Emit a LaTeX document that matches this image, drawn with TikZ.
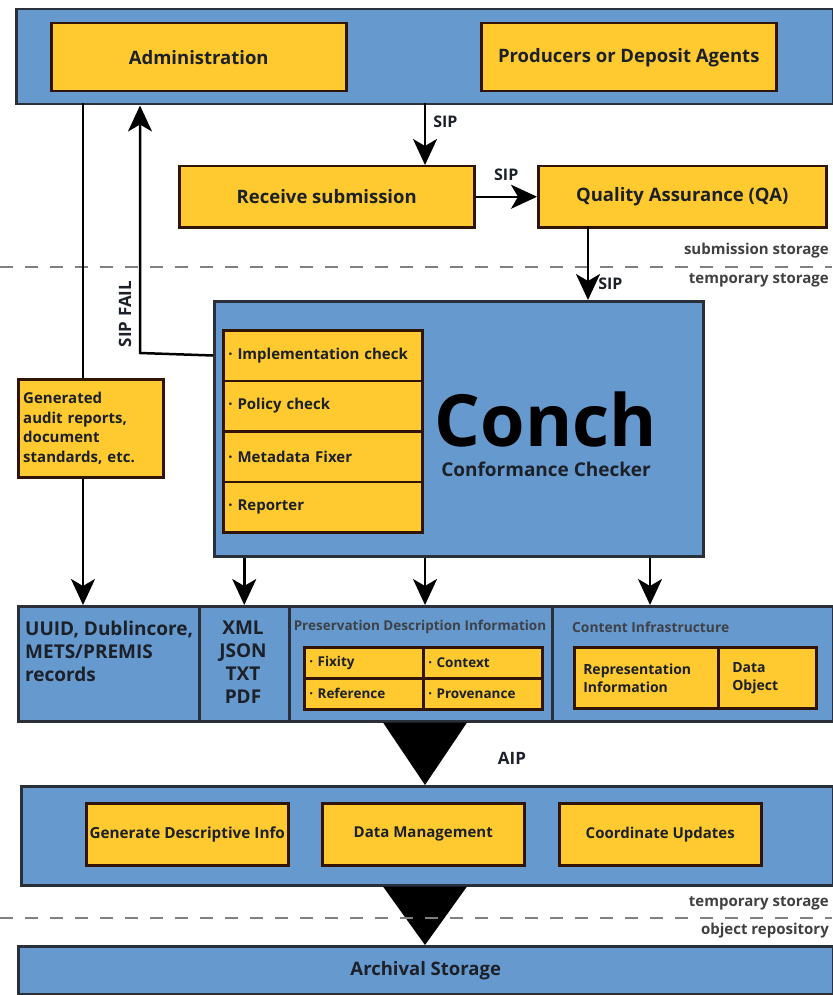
\documentclass[tikz,border=0pt]{standalone}
\usepackage{fontspec}
\setmainfont{Open Sans}
\usetikzlibrary{arrows.meta,positioning,calc}
\definecolor{oaisblue}{RGB}{102,153,205}
\definecolor{oaisyellow}{RGB}{255,202,48}
\definecolor{boxedge}{RGB}{48,20,8}
\definecolor{bandedge}{RGB}{42,48,58}
\definecolor{ink}{RGB}{28,32,40}

\tikzset{
  band/.style={draw=bandedge,fill=oaisblue,line width=2.5pt,inner sep=0pt,anchor=north west},
  unit/.style={draw=boxedge,fill=oaisyellow,line width=2.5pt,inner sep=0pt,anchor=north west,
    text=ink,font=\bfseries\fontsize{18.5}{22}\selectfont},
  flow/.style={-{Stealth[length=26pt,width=24pt,inset=7pt]},line width=2.5pt},
  wire/.style={line width=2.5pt},
  tag/.style={font=\bfseries\fontsize{16}{18}\selectfont,text=ink,inner sep=1pt},
  tier/.style={line width=2.5pt,draw=black!50,dash pattern=on 13pt off 12pt},
  tiername/.style={font=\bfseries\fontsize{15}{17}\selectfont,text=black!75,anchor=east,inner sep=1pt},
  checkrow/.style={unit,minimum height=50.5pt,text width=189pt,inner xsep=5pt,align=left,
    font=\bfseries\fontsize{15}{18}\selectfont},
  cell/.style={unit,minimum height=31pt,text width=109pt,inner xsep=5pt,align=left,
    font=\bfseries\fontsize{13.5}{16}\selectfont},
}

\begin{document}
\begin{tikzpicture}[x=1pt,y=-1pt]
\useasboundingbox (0,0) rectangle (832,995);

% producers / administration
\node[band,minimum width=817pt,minimum height=95pt] (actors) at (15,8) {};
\node[unit,minimum width=295pt,minimum height=68pt] (admin) at (50,22) {Administration};
\node[unit,minimum width=295pt,minimum height=68pt] (producers) at (480,22) {Producers or Deposit Agents};

% submission
\node[unit,minimum width=295pt,minimum height=61pt] (receive) at (178,165) {Receive submission};
\node[unit,minimum width=288pt,minimum height=61pt] (qa) at (537,165) {Quality Assurance (QA)};

\coordinate (sipin) at (425,103);
\coordinate (qaout) at (588,226);
\coordinate (spine) at (425,0);
\coordinate (adminout) at (83,103);
\coordinate (failbend) at (140,353);
\coordinate (cinfo) at (650,0);

\draw[flow] (sipin) -- (sipin |- receive.north) node[tag,pos=0.3,right=6pt] {SIP};
\draw[flow] (receive) -- (qa) node[tag,midway,above=14pt] {SIP};

% storage tier
\draw[tier] (0,267) -- (832,267);
\node[tiername] (subst) at (830,251) {submission storage};
\node[tiername] (tmpst) at (830,280) {temporary storage};

% conch
\node[band,minimum width=489pt,minimum height=255pt] (conch) at (213,300) {};
\draw[flow] (qaout) -- (qaout |- conch.north) node[tag,pos=0.78,right=8pt] {SIP};

\foreach \lbl [count=\i] in {Implementation check,Policy check,Metadata Fixer,Reporter}
  \node[checkrow] (chk\i) at ({222},{329+(\i-1)*50.5}) {· \lbl};

\node[font=\bfseries\fontsize{72}{72}\selectfont,text=black,inner sep=0pt,anchor=base] (title) at (546,446) {Conch};
\node[font=\bfseries\fontsize{19}{22}\selectfont,text=ink,inner sep=0pt,anchor=base] (subtitle) at (546,476) {Conformance Checker};

\draw[flow] (conch.west |- chk1) -- (failbend) -- (failbend |- actors.south);
\node[tag,rotate=90,font=\bfseries\fontsize{17}{19}\selectfont] (fail) at (125,314) {SIP FAIL};

% audit reports
\node[unit,minimum height=98pt,text width=135pt,inner xsep=5pt,align=left,
  font=\bfseries\fontsize{15}{19.5}\selectfont] (audit) at (17,378)
  {Generated\\audit reports,\\document\\standards, etc.};
\draw[wire] (adminout) -- (adminout |- audit.north);

% package contents
\node[band,minimum width=181pt,minimum height=115pt] (records) at (17,605) {};
\node[band,minimum width=90pt,minimum height=115pt] (formats) at (198,605) {};
\node[band,minimum width=263pt,minimum height=115pt] (pdi) at (288,605) {};
\node[band,minimum width=281pt,minimum height=115pt] (content) at (551,605) {};

\draw[flow] (adminout |- audit.south) -- (adminout |- records.north);
\draw[flow] (conch.south -| formats) -- (formats.north);
\draw[flow] (conch.south -| spine) -- (pdi.north -| spine);
\draw[flow] (conch.south -| cinfo) -- (content.north -| cinfo);

\node[anchor=north west,align=left,text=ink,inner sep=0pt,
  font=\bfseries\fontsize{19}{23}\selectfont] (recordtxt) at (25,621)
  {UUID, Dublincore,\\METS/PREMIS\\records};
\node[anchor=north,align=center,text=ink,inner sep=0pt,
  font=\bfseries\fontsize{19}{23}\selectfont] (formattxt) at (243,621)
  {XML\\JSON\\TXT\\PDF};

\node[font=\bfseries\fontsize{13.5}{16}\selectfont,text=ink!85,inner sep=0pt] (pditxt) at (420,627)
  {Preservation Description Information};
\node[cell] (fixity) at (303,646) {· Fixity};
\node[cell] (context) at (422,646) {· Context};
\node[cell] (reference) at (303,677) {· Reference};
\node[cell] (provenance) at (422,677) {· Provenance};

\node[font=\bfseries\fontsize{13.8}{16}\selectfont,text=ink!85,anchor=west,inner sep=0pt] (citxt) at (572,627)
  {Content Infrastructure};
\node[unit,minimum height=61pt,text width=126pt,inner xsep=9pt,align=left,
  font=\bfseries\fontsize{14}{18}\selectfont] (repinfo) at (573,646) {Representation\\Information};
\node[unit,minimum height=61pt,text width=70pt,inner xsep=14pt,align=left,
  font=\bfseries\fontsize{14}{18}\selectfont] (dataobj) at (717,646) {Data\\Object};

% AIP
\node[band,minimum width=812pt,minimum height=99pt] (ingest) at (20,785) {};
\fill ($(spine |- pdi.south)+(-42,0)$) -- ($(spine |- pdi.south)+(42,0)$) -- (spine |- ingest.north) -- cycle;
\node[tag,font=\bfseries\fontsize{17}{19}\selectfont] (aip) at (512,758) {AIP};

\node[unit,minimum width=202pt,minimum height=62pt,font=\bfseries\fontsize{15.3}{18}\selectfont] (descinfo) at (85,802) {Generate Descriptive Info};
\node[unit,minimum width=202pt,minimum height=62pt,font=\bfseries\fontsize{15}{18}\selectfont,right=31.5pt of descinfo] (datamgmt) {Data Management};
\node[unit,minimum width=202pt,minimum height=62pt,font=\bfseries\fontsize{15}{18}\selectfont,right=32.5pt of datamgmt] (coordupd) {Coordinate Updates};

% archival storage
\node[band,minimum width=815pt,minimum height=48pt,font=\bfseries\fontsize{18.5}{21}\selectfont,text=ink] (archive) at (17,945) {Archival Storage};
\fill ($(spine |- ingest.south)+(-42,0)$) -- ($(spine |- ingest.south)+(42,0)$) -- (spine |- archive.north) -- cycle;

\draw[tier] (0,918) -- (832,918);
\node[tiername] (tmpst2) at (830,903) {temporary storage};
\node[tiername] (objrep) at (830,931) {object repository};
\end{tikzpicture}
\end{document}
